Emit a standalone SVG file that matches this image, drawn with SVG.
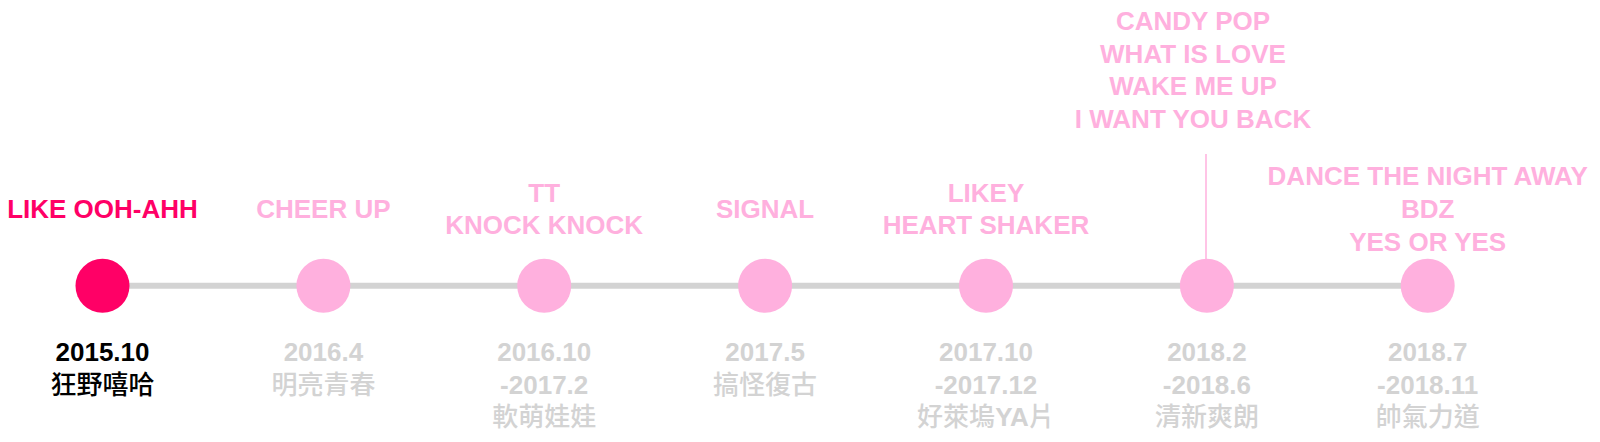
<svg xmlns="http://www.w3.org/2000/svg" width="1600" height="442" viewBox="0 0 1600 442">
<style>
.t{font-family:"Liberation Sans","Noto Sans CJK TC",Arial,sans-serif;font-size:26px;font-weight:bold;text-anchor:middle}
.cjk{font-family:"Noto Sans CJK TC","Liberation Sans",sans-serif;font-weight:500}
.lat{font-family:"Liberation Sans",Arial,sans-serif;font-weight:bold}
.hot{fill:#FF0066}
.pink{fill:#FFB0DE}
.black{fill:#000000}
.gray{fill:#D3D3D3}
.conn{stroke:#D3D3D3;stroke-width:6;fill:none}
.stem{stroke:#FFB0DE;stroke-width:1.5;fill:none}
</style>
<rect width="1600" height="442" fill="#FFFFFF"/>
<g id="connectors">
<line class="conn" x1="102.5" y1="285.8" x2="323.4" y2="285.8"/>
<line class="conn" x1="323.4" y1="285.8" x2="544.2" y2="285.8"/>
<line class="conn" x1="544.2" y1="285.8" x2="765.1" y2="285.8"/>
<line class="conn" x1="765.1" y1="285.8" x2="986" y2="285.8"/>
<line class="conn" x1="986" y1="285.8" x2="1206.9" y2="285.8"/>
<line class="conn" x1="1206.9" y1="285.8" x2="1427.7" y2="285.8"/>
<line class="stem" x1="1206" y1="154" x2="1206" y2="260"/>
</g>
<g id="node-2015-10">
<circle cx="102.5" cy="285.8" r="27" class="hot"/>
<text class="t hot" x="102.5" y="218">LIKE OOH-AHH</text>
<text class="t black" x="102.5" y="361">2015.10</text>
<text class="t black cjk" x="102.5" y="393.5">狂野嘻哈</text>
</g>
<g id="node-2016-4">
<circle cx="323.4" cy="285.8" r="27" class="pink"/>
<text class="t pink" x="323.4" y="218">CHEER UP</text>
<text class="t gray" x="323.4" y="361">2016.4</text>
<text class="t gray cjk" x="323.4" y="393.5">明亮青春</text>
</g>
<g id="node-2016-10">
<circle cx="544.2" cy="285.8" r="27" class="pink"/>
<text class="t pink" x="544.2" y="201.7">TT</text>
<text class="t pink" x="544.2" y="234.2">KNOCK KNOCK</text>
<text class="t gray" x="544.2" y="361">2016.10</text>
<text class="t gray" x="544.2" y="393.5">-2017.2</text>
<text class="t gray cjk" x="544.2" y="426">軟萌娃娃</text>
</g>
<g id="node-2017-5">
<circle cx="765.1" cy="285.8" r="27" class="pink"/>
<text class="t pink" x="765.1" y="218">SIGNAL</text>
<text class="t gray" x="765.1" y="361">2017.5</text>
<text class="t gray cjk" x="765.1" y="393.5">搞怪復古</text>
</g>
<g id="node-2017-10">
<circle cx="986" cy="285.8" r="27" class="pink"/>
<text class="t pink" x="986" y="201.7">LIKEY</text>
<text class="t pink" x="986" y="234.2">HEART SHAKER</text>
<text class="t gray" x="986" y="361">2017.10</text>
<text class="t gray" x="986" y="393.5">-2017.12</text>
<text class="t gray cjk" x="986" y="426">好萊塢<tspan class="lat">YA</tspan>片</text>
</g>
<g id="node-2018-2">
<circle cx="1206.9" cy="285.8" r="27" class="pink"/>
<text class="t pink" x="1193" y="30">CANDY POP</text>
<text class="t pink" x="1193" y="62.5">WHAT IS LOVE</text>
<text class="t pink" x="1193" y="95">WAKE ME UP</text>
<text class="t pink" x="1193" y="127.7">I WANT YOU BACK</text>
<text class="t gray" x="1206.9" y="361">2018.2</text>
<text class="t gray" x="1206.9" y="393.5">-2018.6</text>
<text class="t gray cjk" x="1206.9" y="426">清新爽朗</text>
</g>
<g id="node-2018-7">
<circle cx="1427.7" cy="285.8" r="27" class="pink"/>
<text class="t pink" x="1427.7" y="185">DANCE THE NIGHT AWAY</text>
<text class="t pink" x="1427.7" y="218">BDZ</text>
<text class="t pink" x="1427.7" y="251">YES OR YES</text>
<text class="t gray" x="1427.7" y="361">2018.7</text>
<text class="t gray" x="1427.7" y="393.5">-2018.11</text>
<text class="t gray cjk" x="1427.7" y="426">帥氣力道</text>
</g>
</svg>
